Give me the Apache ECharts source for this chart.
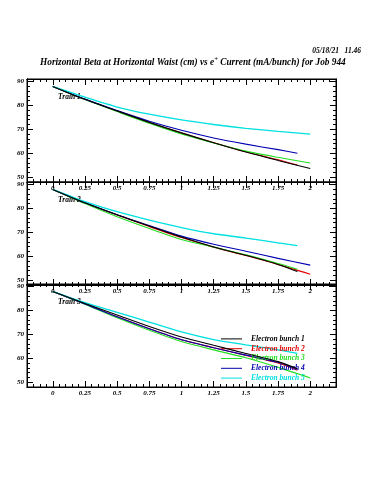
<!DOCTYPE html>
<html>
<head>
<meta charset="utf-8">
<script src="https://cdn.jsdelivr.net/npm/echarts@6/dist/echarts.min.js"></script>
<style>html,body{margin:0;padding:0;background:#fff}#c{width:375px;height:500px}</style>
</head>
<body>
<div id="c"></div>
<script>
// ---- data (x = e+ current mA/bunch, y = horizontal beta at waist cm) ----
const xFull = [0, 0.25, 0.5, 0.75, 1, 1.25, 1.5, 1.75, 2];
const xTo19 = [0, 0.25, 0.5, 0.75, 1, 1.25, 1.5, 1.75, 1.9];
const bunchNames = ['Electron bunch 1', 'Electron bunch 2', 'Electron bunch 3', 'Electron bunch 4', 'Electron bunch 5'];
const trainNames = ['Train 1', 'Train 2', 'Train 3'];
const yTickLabels = [50, 60, 70, 80, 90];

// Train 1
const t1b1 = [87.9, 82.5, 77.7, 72.9, 68.5, 64.4, 60.5, 57.0, 53.6];
const t1b2 = [87.9, 82.5, 77.6, 72.8, 68.4, 64.4, 60.6, 57.3, 55.1];
const t1b3 = [87.9, 82.4, 77.4, 72.5, 68.0, 64.3, 60.9, 58.3, 55.9];
const t1b4 = [87.9, 82.6, 77.8, 73.4, 69.6, 66.4, 63.8, 61.5, 60.0];
const t1b5 = [87.9, 83.4, 79.3, 76.3, 73.9, 72.0, 70.4, 69.1, 68.0];
// Train 2
const t2b1 = [87.9, 82.3, 77.3, 72.6, 68.0, 63.9, 60.4, 56.6, 53.6];
const t2b2 = [87.9, 82.2, 77.2, 72.4, 67.8, 63.8, 60.3, 56.6, 52.5];
const t2b3 = [87.9, 82.0, 76.5, 71.6, 67.0, 63.8, 60.6, 57.0, 54.6];
const t2b4 = [87.9, 82.3, 77.3, 72.8, 68.4, 65.0, 62.1, 59.1, 56.3];
const t2b5 = [87.9, 82.8, 78.6, 75.1, 72.0, 69.4, 67.6, 65.6, 64.4];
// Train 3
const t3b1 = [87.9, 82.9, 78.1, 73.3, 68.9, 65.4, 62.0, 58.6, 55.6];
const t3b2 = [87.9, 82.7, 77.3, 72.3, 67.7, 64.4, 61.2, 58.0, 55.0];
const t3b3 = [87.9, 82.6, 76.9, 71.7, 67.0, 63.5, 60.2, 56.2, 51.8];
const t3b4 = [87.9, 82.7, 77.3, 72.3, 67.7, 64.4, 61.3, 58.3, 55.5];
const t3b5 = [87.9, 83.2, 79.2, 75.1, 71.0, 67.8, 65.6, 63.5, 62.0];

const panels = [
  [[xFull, t1b1], [xTo19, t1b2], [xFull, t1b3], [xTo19, t1b4], [xFull, t1b5]],
  [[xTo19, t2b1], [xFull, t2b2], [xTo19, t2b3], [xFull, t2b4], [xTo19, t2b5]],
  [[xTo19, t3b1], [xTo19, t3b2], [xFull, t3b3], [xTo19, t3b4], [xTo19, t3b5]]
];

// ---- styling ----
const colors = ['#000000', '#e00000', '#22dd22', '#0000b0', '#00e0e0'];
const FONT = '"Liberation Serif", "DejaVu Serif", serif';
const gridTops = [79, 182, 284];
const gridH = 103;
const XMIN = -0.2, XMAX = 2.2, YMIN = 48, YMAX = 91;

const grids = [], xAxes = [], yAxes = [], series = [], graphics = [];
const lbl = {fontFamily: FONT, fontStyle: 'italic', fontWeight: 'bold', fontSize: 7, color: '#000'};

function xAx(g, pos, major) {
  return {
    type: 'value', gridIndex: g, position: pos, min: XMIN, max: XMAX,
    minInterval: major ? 0.25 : 0.05, maxInterval: major ? 0.25 : 0.05,
    splitNumber: major ? 10 : 48,
    axisLine: {show: true, onZero: false, lineStyle: {color: '#000', width: 1}},
    axisTick: {show: true, inside: true, length: major ? 6 : 3, lineStyle: {color: '#000', width: 1}},
    axisLabel: (major && pos === 'bottom') ? Object.assign({show: true, margin: 3, showMinLabel: false, showMaxLabel: false}, lbl) : {show: false},
    splitLine: {show: false}
  };
}
function yAx(g, pos, major) {
  return {
    type: 'value', gridIndex: g, position: pos, min: YMIN, max: YMAX,
    minInterval: major ? 10 : 2, maxInterval: major ? 10 : 2,
    splitNumber: major ? 4 : 20,
    axisLine: {show: true, onZero: false, lineStyle: {color: '#000', width: 1}},
    axisTick: {show: true, inside: true, length: major ? 6 : 3, lineStyle: {color: '#000', width: 1}},
    axisLabel: (major && pos === 'left') ? Object.assign({show: true, margin: 3, showMinLabel: false, showMaxLabel: false,
      formatter: v => (yTickLabels.indexOf(v) >= 0 ? String(v) : '')}, lbl) : {show: false},
    splitLine: {show: false}
  };
}

for (let g = 0; g < 3; g++) {
  grids.push({left: 27, right: 39, top: gridTops[g], height: gridH, show: true, borderColor: '#000', borderWidth: 1, backgroundColor: 'transparent'});
  const xb = xAxes.length;
  xAxes.push(xAx(g, 'bottom', true), xAx(g, 'bottom', false), xAx(g, 'top', true), xAx(g, 'top', false));
  const yb = yAxes.length;
  yAxes.push(yAx(g, 'left', true), yAx(g, 'left', false), yAx(g, 'right', true), yAx(g, 'right', false));
  panels[g].forEach((p, i) => {
    series.push({
      type: 'line', name: bunchNames[i], xAxisIndex: xb, yAxisIndex: yb,
      data: p[0].map((x, k) => [x, p[1][k]]),
      smooth: 0.25, showSymbol: false, symbol: 'none', animation: false,
      lineStyle: {color: colors[i], width: i === 4 ? 1.3 : 1.1},
      itemStyle: {color: colors[i]}, z: 3 + (i === 0 ? 2 : 0)
    });
  });
  graphics.push({type: 'text', left: 58, top: gridTops[g] + 14, style: {text: trainNames[g], font: 'italic bold 7.5px ' + FONT, fill: '#000'}});
}

const chart = echarts.init(document.getElementById('c'), null, {renderer: 'canvas'});
chart.setOption({
  animation: false,
  backgroundColor: '#fff',
  title: [
    {text: '{a|Horizontal Beta at Horizontal Waist (cm) vs e}{s|+}{a| Current (mA/bunch) for Job 944}', left: 35, top: 51,
      textStyle: {rich: {
        a: {fontFamily: FONT, fontStyle: 'italic', fontWeight: 'bold', fontSize: 9.3, color: '#000'},
        s: {fontFamily: FONT, fontStyle: 'italic', fontWeight: 'bold', fontSize: 6.5, color: '#000', verticalAlign: 'top', padding: [0, 0, 6, 0]}
      }}},
    {text: '05/18/21   11.46', right: 9, top: 42,
      textStyle: {fontFamily: FONT, fontStyle: 'italic', fontWeight: 'bold', fontSize: 7.5, color: '#000'}}
  ],
  legend: {
    orient: 'vertical', left: 216, top: 329, itemWidth: 21, itemHeight: 1, itemGap: 0, icon: 'rect',
    data: bunchNames.map((n, i) => ({name: n, textStyle: {color: colors[i]}})),
    textStyle: {fontFamily: FONT, fontStyle: 'italic', fontWeight: 'bold', fontSize: 7.5, lineHeight: 9.8, padding: [0, 0, 0, 4]},
    selectedMode: false
  },
  grid: grids, xAxis: xAxes, yAxis: yAxes, series: series, graphic: graphics
});
</script>
</body>
</html>
